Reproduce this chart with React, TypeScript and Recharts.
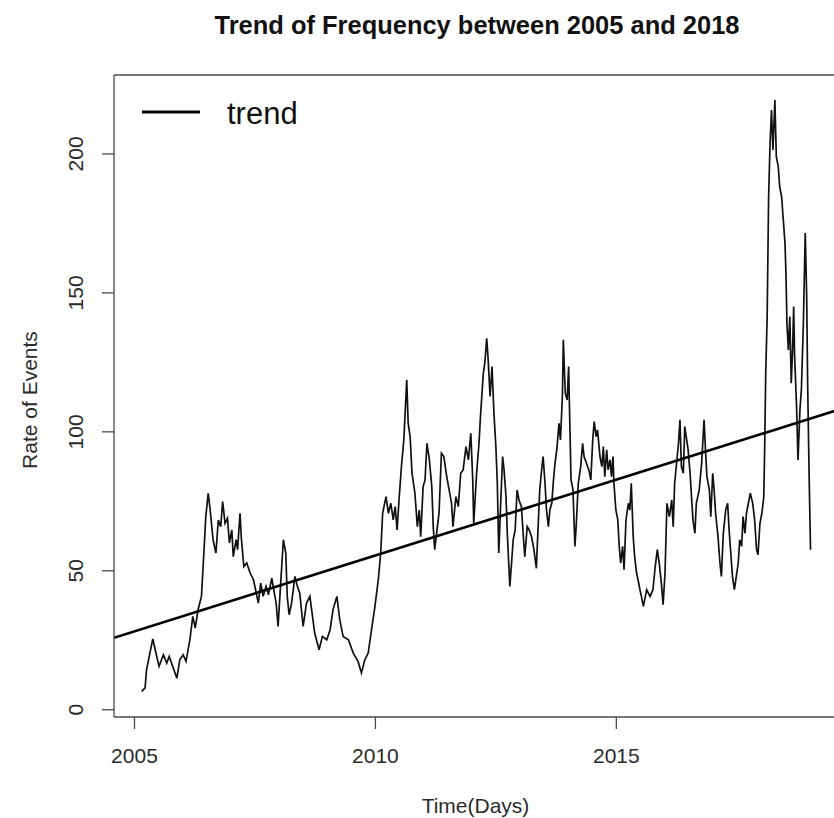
import React from "react";
import { LineChart, Line, XAxis, YAxis, ReferenceLine, Label } from "recharts";

// ---- data ----
const timeYears: number[] = [
  2005.15, 2005.22, 2005.25, 2005.38, 2005.43, 2005.51, 2005.6, 2005.67, 2005.72, 2005.88,
  2005.94, 2006.01, 2006.07, 2006.15, 2006.21, 2006.26, 2006.32, 2006.39, 2006.44, 2006.48,
  2006.53, 2006.57, 2006.63, 2006.69, 2006.74, 2006.79, 2006.83, 2006.88, 2006.93, 2006.97,
  2007.02, 2007.05, 2007.11, 2007.14, 2007.19, 2007.22, 2007.27, 2007.33, 2007.4, 2007.47,
  2007.52, 2007.57, 2007.62, 2007.67, 2007.73, 2007.78, 2007.85, 2007.89, 2007.94, 2007.98,
  2008.03, 2008.09, 2008.14, 2008.17, 2008.21, 2008.26, 2008.33, 2008.38, 2008.43, 2008.5,
  2008.57, 2008.64, 2008.74, 2008.83, 2008.9, 2008.99, 2009.06, 2009.12, 2009.2, 2009.26,
  2009.33, 2009.44, 2009.54, 2009.64, 2009.71, 2009.78, 2009.85, 2009.92, 2009.99, 2010.06,
  2010.11, 2010.15, 2010.22, 2010.27, 2010.32, 2010.37, 2010.41, 2010.45, 2010.49, 2010.54,
  2010.59, 2010.65, 2010.68, 2010.72, 2010.76, 2010.82, 2010.87, 2010.91, 2010.94, 2010.99,
  2011.03, 2011.07, 2011.12, 2011.17, 2011.2, 2011.23, 2011.27, 2011.32, 2011.37, 2011.42,
  2011.48, 2011.53, 2011.58, 2011.61, 2011.67, 2011.72, 2011.77, 2011.82, 2011.88, 2011.93,
  2011.98, 2012.02, 2012.04, 2012.1, 2012.15, 2012.18, 2012.24, 2012.27, 2012.31, 2012.34,
  2012.38, 2012.42, 2012.46, 2012.5, 2012.53, 2012.56, 2012.6, 2012.64, 2012.67, 2012.71,
  2012.74, 2012.79, 2012.83, 2012.86, 2012.9, 2012.94, 2012.98, 2013.03, 2013.07, 2013.1,
  2013.15, 2013.19, 2013.24, 2013.29, 2013.34, 2013.38, 2013.41, 2013.45, 2013.48, 2013.52,
  2013.55, 2013.59, 2013.62, 2013.66, 2013.69, 2013.72, 2013.77, 2013.81, 2013.84, 2013.88,
  2013.9, 2013.94, 2013.98, 2014.01, 2014.03, 2014.06, 2014.1, 2014.14, 2014.17, 2014.21,
  2014.26, 2014.3, 2014.33, 2014.38, 2014.43, 2014.47, 2014.51, 2014.54, 2014.58, 2014.61,
  2014.66, 2014.7, 2014.73, 2014.76, 2014.8, 2014.83, 2014.87, 2014.9, 2014.93, 2014.95,
  2014.99, 2015.03, 2015.06, 2015.09, 2015.13, 2015.16, 2015.2, 2015.25, 2015.28, 2015.31,
  2015.35, 2015.38, 2015.42, 2015.45, 2015.49, 2015.52, 2015.56, 2015.63, 2015.7, 2015.76,
  2015.8, 2015.85, 2015.89, 2015.94, 2015.97, 2016.01, 2016.05, 2016.1, 2016.15, 2016.18,
  2016.21, 2016.25, 2016.29, 2016.32, 2016.35, 2016.39, 2016.42, 2016.46, 2016.49, 2016.53,
  2016.56, 2016.59, 2016.63, 2016.66, 2016.72, 2016.77, 2016.82, 2016.85, 2016.88, 2016.93,
  2016.96, 2017.0, 2017.03, 2017.06, 2017.11, 2017.15, 2017.18, 2017.22, 2017.27, 2017.31,
  2017.34, 2017.37, 2017.41, 2017.45, 2017.49, 2017.53, 2017.56, 2017.6, 2017.63, 2017.67,
  2017.7, 2017.74, 2017.78, 2017.83, 2017.87, 2017.91, 2017.94, 2017.98, 2018.02, 2018.06,
  2018.08, 2018.1, 2018.13, 2018.16, 2018.19, 2018.22, 2018.25, 2018.29, 2018.32, 2018.36,
  2018.39, 2018.43, 2018.46, 2018.5, 2018.52, 2018.54, 2018.57, 2018.6, 2018.63, 2018.66,
  2018.68, 2018.7, 2018.74, 2018.77, 2018.81, 2018.84, 2018.88, 2018.9, 2018.92, 2018.95,
  2018.97, 2019.0, 2019.03,
];

const rateValues: number[] = [
  6.6, 7.9, 14.4, 25.5, 21.6, 15.6, 19.8, 16.8, 19.2, 11.4,
  18, 19.8, 17.4, 25.2, 33.6, 29.4, 36, 40.8, 56.5, 69.5,
  77.9, 72, 61.2, 56.4, 68.3, 65.9, 74.9, 67.1, 68.9, 60,
  64.7, 55.1, 61.2, 57.6, 70.7, 61.2, 51.5, 52.8, 49.2, 46.8,
  42.6, 38.4, 45.6, 40.8, 44.4, 41.4, 47.4, 43.2, 38.4, 30,
  44.4, 61.2, 56.4, 40.8, 34.2, 38.4, 48, 44.4, 42, 30,
  38.4, 40.8, 27.6, 21.6, 26.4, 25.2, 28.8, 36, 40.8, 32.4,
  26.4, 25.2, 20.4, 17.4, 13.2, 18, 20.4, 28.8, 37.2, 46.8,
  56.4, 70.7, 76.7, 70.7, 74.3, 68.3, 73.1, 64.7, 75.5, 87.5,
  97.1, 118.7, 103.1, 98.3, 85.1, 77.9, 65.9, 71.9, 62.3, 80.3,
  82.7, 95.9, 89.9, 80.3, 65.9, 57.6, 63.5, 70.7, 92.3, 91.1,
  83.9, 79.1, 74.3, 65.9, 76.7, 73.1, 85.1, 86.3, 94.7, 89.9,
  99.5, 82.7, 67.1, 85.1, 95.9, 105.5, 121.1, 124.7, 133.7, 125.9,
  112.7, 123.5, 106.7, 94.7, 81.5, 56.4, 74.3, 91.1, 86.3, 76.7,
  62.3, 44.4, 54, 61.2, 64.7, 79.1, 75.5, 73.1, 62.3, 55.1,
  65.9, 64.7, 62.3, 57.6, 50.9, 67.1, 79.1, 86.3, 91.1, 81.5,
  71.9, 65.9, 71.9, 74.3, 81.5, 87.5, 94.7, 103.1, 97.1, 112.7,
  133.1, 113.9, 111.5, 123.5, 106.7, 82.7, 79.1, 58.8, 67.1, 81.5,
  87.5, 95.9, 91.1, 88.7, 86.3, 82.7, 97.1, 103.7, 98.3, 100.7,
  91.1, 87.5, 94.7, 83.9, 93.5, 86.3, 89.9, 83.9, 91.1, 81.5,
  71.9, 68.3, 58.8, 52.8, 58.8, 50.4, 68.3, 74.3, 71.9, 81.5,
  62.3, 55.1, 49.2, 46.8, 43.2, 40.8, 37.2, 43.2, 40.8, 43.2,
  50.4, 57.6, 52.8, 44.4, 37.8, 49.2, 74.3, 69.5, 75.5, 65.9,
  81.5, 88.7, 95.9, 104.3, 87.5, 85.1, 101.9, 97.1, 93.5, 85.1,
  76.7, 68.3, 63.5, 74.3, 79.1, 88.7, 104.3, 93.5, 83.9, 79.1,
  69.5, 85.1, 79.1, 70.7, 62.3, 52.8, 48, 63.5, 71.9, 74.3,
  64.7, 57.6, 48, 43.2, 48, 52.8, 61.2, 58.8, 69.5, 63.5,
  70.7, 74.3, 77.9, 74.3, 68.3, 57.6, 55.8, 67.1, 70.7, 76.7,
  95.9, 121.1, 141.5, 184.6, 203.8, 215.8, 201.4, 219.4, 199, 195.4,
  188.2, 184.6, 177.4, 167.9, 157.1, 139.1, 129.5, 141.5, 117.5, 130.7,
  145.1, 127.1, 109.1, 89.9, 107.9, 115.1, 137.9, 154.7, 171.5, 148.7,
  117.5, 85.1, 57.6,
];

const trendYears: number[] = [2004.575, 2019.6];
const trendValues: number[] = [25.9, 107.9];

const xTicks: number[] = [2005, 2010, 2015];
const yTicks: number[] = [0, 50, 100, 150, 200];
const xDomain: [number, number] = [2004.575, 2019.6];
const yDomain: [number, number] = [-2.6, 228.4];

const seriesData = timeYears.map((t, i) => ({ t, rate: rateValues[i] }));
const trendData = trendYears.map((t, i) => ({ t, trend: trendValues[i] }));

const FONT = "'Liberation Sans', Arial, Helvetica, sans-serif";
const AXIS = "#4a4a4a";
const TEXT = "#2b2b2b";

const XTick = (props: any) => {
  const { x, payload } = props;
  return (
    <text x={x} y={763} textAnchor="middle" fontSize={21} fill={TEXT} fontFamily={FONT}>
      {payload.value}
    </text>
  );
};

const YTick = (props: any) => {
  const { y, payload } = props;
  const bx = 83;
  return (
    <text
      x={bx}
      y={y}
      transform={`rotate(-90 ${bx} ${y})`}
      textAnchor="middle"
      fontSize={21}
      fill={TEXT}
      fontFamily={FONT}
    >
      {payload.value}
    </text>
  );
};

export default function App() {
  return (
    <div
      style={{
        position: "absolute",
        left: 0,
        top: 0,
        width: 834,
        height: 818,
        overflow: "hidden",
        background: "#ffffff",
      }}
    >
      <LineChart
        width={840}
        height={818}
        margin={{ top: 75, right: 2, bottom: 1, left: 0 }}
      >
        <XAxis
          type="number"
          dataKey="t"
          domain={xDomain}
          ticks={xTicks}
          allowDataOverflow
          height={100}
          tickSize={12}
          stroke={AXIS}
          strokeWidth={1.3}
          tick={<XTick />}
          tickLine={{ stroke: AXIS, strokeWidth: 1.3 }}
          axisLine={{ stroke: AXIS, strokeWidth: 1.3 }}
        >
          <Label
            content={() => (
              <text x={475.5} y={813} textAnchor="middle" fontSize={21} fill={TEXT} fontFamily={FONT}>
                Time(Days)
              </text>
            )}
          />
        </XAxis>
        <YAxis
          type="number"
          domain={yDomain}
          ticks={yTicks}
          allowDataOverflow
          width={114}
          tickSize={12}
          stroke={AXIS}
          tick={<YTick />}
          tickLine={{ stroke: AXIS, strokeWidth: 1.3 }}
          axisLine={{ stroke: AXIS, strokeWidth: 1.3 }}
        >
          <Label
            content={() => (
              <text
                x={37}
                y={400}
                transform="rotate(-90 37 400)"
                textAnchor="middle"
                fontSize={21}
                fill={TEXT}
                fontFamily={FONT}
              >
                Rate of Events
              </text>
            )}
          />
        </YAxis>
        <ReferenceLine y={yDomain[1]} stroke={AXIS} strokeWidth={1.3} />
        <ReferenceLine x={xDomain[1]} stroke={AXIS} strokeWidth={1.3} />
        <Line
          data={seriesData}
          dataKey="rate"
          type="linear"
          stroke="#111111"
          strokeWidth={1.7}
          dot={false}
          activeDot={false}
          isAnimationActive={false}
        />
        <Line
          data={trendData}
          dataKey="trend"
          type="linear"
          stroke="#000000"
          strokeWidth={2.6}
          dot={false}
          activeDot={false}
          isAnimationActive={false}
        />
      </LineChart>
      <svg
        width={834}
        height={140}
        style={{ position: "absolute", left: 0, top: 0, pointerEvents: "none" }}
      >
        <text
          x={477}
          y={34}
          textAnchor="middle"
          fontSize={25}
          fontWeight="bold"
          fill="#111"
          fontFamily={FONT}
          textLength={525}
          lengthAdjust="spacingAndGlyphs"
        >
          Trend of Frequency between 2005 and 2018
        </text>
        <line x1={142} x2={200} y1={112} y2={112} stroke="#000" strokeWidth={3} />
        <text x={227} y={124} fontSize={31} fill="#111" fontFamily={FONT}>
          trend
        </text>
      </svg>
    </div>
  );
}
